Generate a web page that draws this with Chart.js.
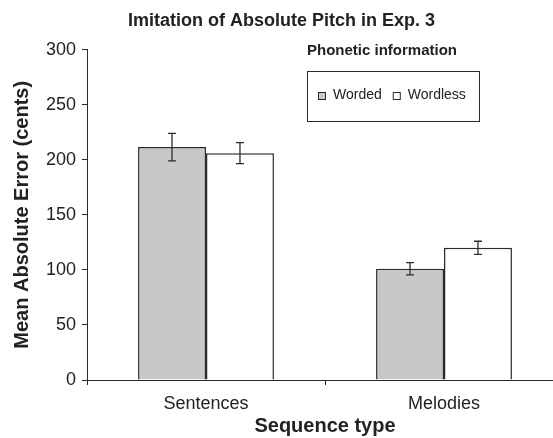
<!DOCTYPE html>
<html>
<head>
<meta charset="utf-8">
<script src="https://cdn.jsdelivr.net/npm/chart.js@4/dist/chart.umd.min.js"></script>
<style>
  html, body { margin: 0; padding: 0; background: #fff; overflow: hidden; }
  #wrap { width: 563px; height: 438px; }
</style>
</head>
<body>
<div id="wrap"><canvas id="chart"></canvas></div>
<script>
const categories = ['Sentences', 'Melodies'];
const worded = [211.5, 101];
const wordedErr = [12.5, 5.5];
const wordless = [206, 120];
const wordlessErr = [9.5, 6];
const yTicks = [0, 50, 100, 150, 200, 250, 300];

const INK = '#2b2b2b';
Chart.defaults.font.family = "Arial, 'Liberation Sans', sans-serif";
Chart.defaults.color = '#222';

// error bars, drawn through the y scale
const errorBars = {
  id: 'errorBars',
  afterDatasetsDraw(chart) {
    const { ctx } = chart;
    const y = chart.scales.y;
    chart.data.datasets.forEach((ds, i) => {
      const meta = chart.getDatasetMeta(i);
      meta.data.forEach((bar, j) => {
        const v = ds.data[j];
        const e = ds.errors[j];
        const top = y.getPixelForValue(v + e);
        const bottom = y.getPixelForValue(v - e);
        ctx.save();
        ctx.strokeStyle = INK;
        ctx.lineWidth = 1.3;
        ctx.beginPath();
        ctx.moveTo(bar.x, top);
        ctx.lineTo(bar.x, bottom);
        ctx.moveTo(bar.x - 4, top);
        ctx.lineTo(bar.x + 4, top);
        ctx.moveTo(bar.x - 4, bottom);
        ctx.lineTo(bar.x + 4, bottom);
        ctx.stroke();
        ctx.restore();
      });
    });
  }
};

// boxed legend with its heading, like the original
const boxLegend = {
  id: 'boxLegend',
  afterDraw(chart) {
    const { ctx } = chart;
    ctx.save();
    ctx.fillStyle = '#222';
    ctx.textBaseline = 'middle';
    ctx.font = "bold 15px Arial, 'Liberation Sans', sans-serif";
    ctx.fillText('Phonetic information', 307, 51);

    ctx.strokeStyle = INK;
    ctx.lineWidth = 1;
    ctx.strokeRect(307.5, 71.5, 172, 50);

    ctx.font = "14px Arial, 'Liberation Sans', sans-serif";
    let x = 318;
    chart.data.datasets.forEach((ds) => {
      ctx.fillStyle = ds.backgroundColor;
      ctx.fillRect(x, 92, 8, 8);
      ctx.strokeStyle = INK;
      ctx.strokeRect(x + 0.5, 92.5, 7, 7);
      ctx.fillStyle = '#222';
      ctx.fillText(ds.label, x + 15, 95);
      x += 15 + ctx.measureText(ds.label).width + 11;
    });
    ctx.restore();
  }
};

new Chart(document.getElementById('chart'), {
  type: 'bar',
  data: {
    labels: categories,
    datasets: [
      {
        label: 'Worded',
        data: worded,
        errors: wordedErr,
        backgroundColor: '#c8c8ca',
        borderColor: INK,
        borderWidth: 1.5,
      },
      {
        label: 'Wordless',
        data: wordless,
        errors: wordlessErr,
        backgroundColor: '#ffffff',
        borderColor: INK,
        borderWidth: 1.5,
      },
    ],
  },
  options: {
    responsive: true,
    maintainAspectRatio: false,
    animation: false,
    layout: { padding: 0 },
    datasets: {
      bar: { categoryPercentage: 0.571, barPercentage: 1 },
    },
    plugins: {
      legend: { display: false },
      tooltip: { enabled: false },
      title: {
        display: true,
        text: 'Imitation of Absolute Pitch in Exp. 3',
        font: { size: 18, weight: 'bold' },
        color: '#222',
        padding: { top: 10, bottom: 18 },
      },
    },
    scales: {
      x: {
        afterFit: (scale) => { scale.height = 58; },
        grid: {
          offset: true,
          drawOnChartArea: false,
          drawTicks: true,
          tickLength: 5,
          color: INK,
        },
        border: { display: true, color: INK, width: 1 },
        ticks: { font: { size: 18 }, color: '#222', padding: 8 },
        title: {
          display: true,
          text: 'Sequence type',
          font: { size: 20, weight: 'bold' },
          color: '#222',
          padding: { top: 0, bottom: 0 },
        },
      },
      y: {
        min: 0,
        max: 300,
        afterFit: (scale) => { scale.width = 87; },
        afterBuildTicks: (scale) => { scale.ticks = yTicks.map(v => ({ value: v })); },
        grid: {
          drawOnChartArea: false,
          drawTicks: true,
          tickLength: 5,
          color: INK,
        },
        border: { display: true, color: INK, width: 1 },
        ticks: { font: { size: 18 }, color: '#222', padding: 6 },
        title: {
          display: true,
          text: 'Mean Absolute Error (cents)',
          font: { size: 20, weight: 'bold' },
          color: '#222',
          padding: { top: 10, bottom: 0 },
        },
      },
    },
  },
  plugins: [errorBars, boxLegend],
});
</script>
</body>
</html>
